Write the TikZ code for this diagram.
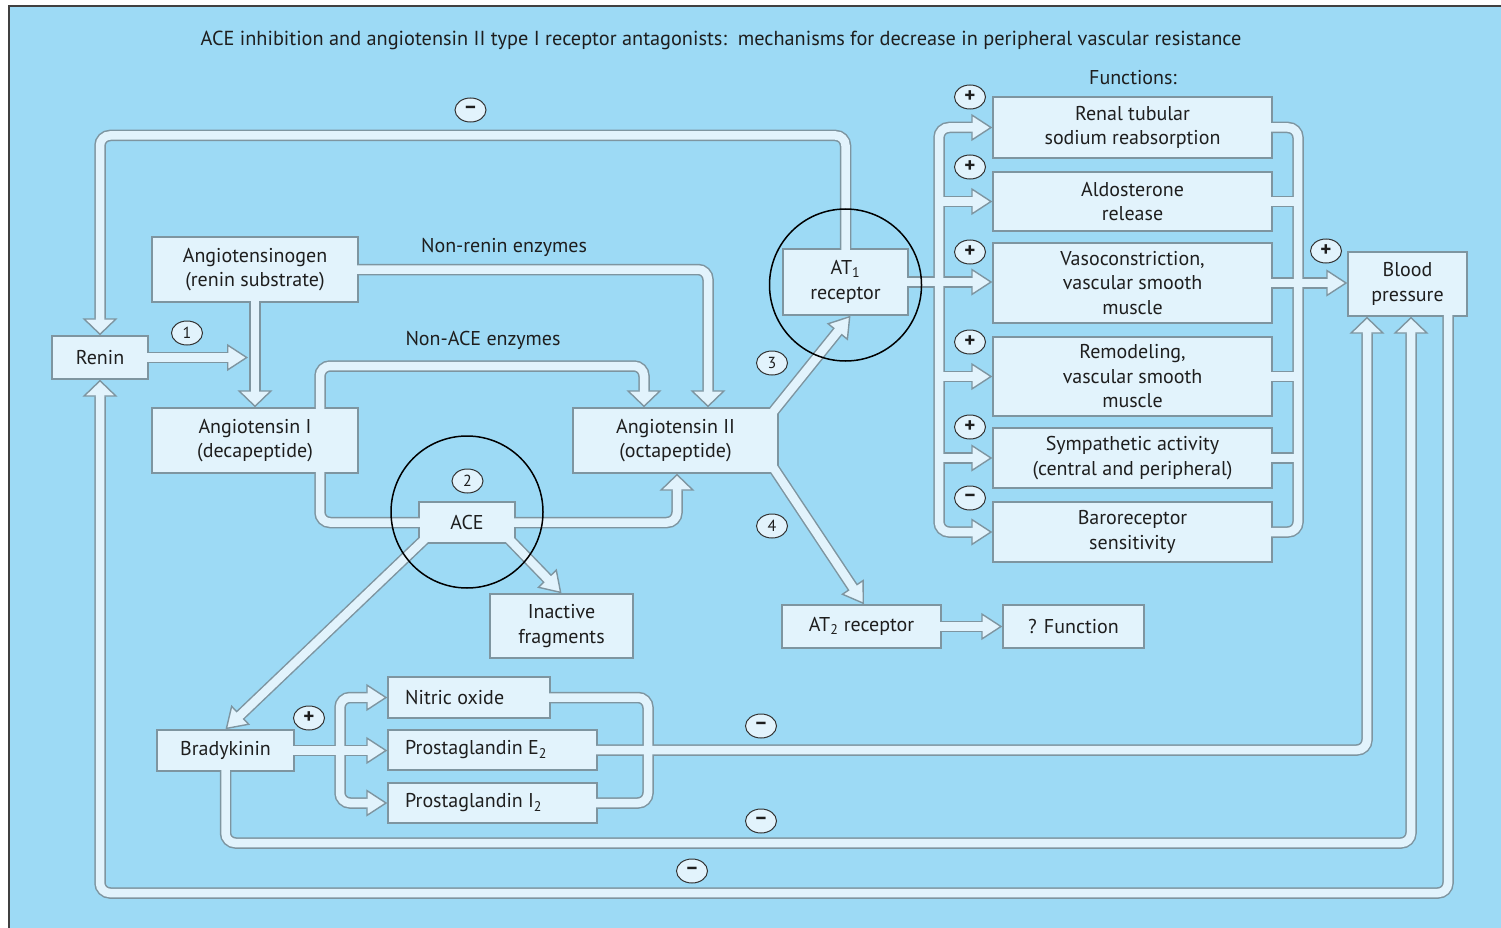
\documentclass[tikz,border=0pt]{standalone}
\usepackage{fontspec}
\setmainfont{PT Sans}
\usetikzlibrary{arrows.meta,shapes.geometric}
\definecolor{bgc}{HTML}{9DDAF5}
\definecolor{lite}{HTML}{E2F3FC}
\definecolor{bordc}{HTML}{7E95A0}
\definecolor{inkc}{HTML}{1E1E1E}
\pgfdeclarelayer{bgl}
\pgfdeclarelayer{fgl}
\pgfdeclarelayer{topl}
\pgfsetlayers{bgl,main,fgl,topl}
\newcommand\band[3]{%
  \begin{pgfonlayer}{bgl}\draw[bandout,#1] #3;\end{pgfonlayer}%
  \begin{pgfonlayer}{fgl}\draw[bandin,#2] #3;\end{pgfonlayer}}
\newcommand\plussign{{\fontsize{21}{21}\selectfont\textbf{+}}}
\newcommand\minussign{{\fontsize{21}{21}\selectfont\textbf{–}}}
\tikzset{
  bandout/.style={draw=bordc, line width=11.5pt, rounded corners=10pt},
  bandin/.style={draw=lite, line width=8.5pt, rounded corners=10pt},
  tipA/.style={-{Triangle[length=17pt 0 0,width=35pt 0 0,fill=lite,line width=1.4pt 0]}},
  tipB/.style={-{Triangle[length=21pt 0 0,width=27pt 0 0,fill=lite,line width=1.4pt 0]}},
  inA/.style={shorten >=7pt},
  inB/.style={shorten >=10pt},
  ends/.style={shorten <=-2pt, shorten >=-2pt},
  box/.style={draw=bordc, fill=lite, line width=1.4pt, inner sep=0pt, align=center,
    text=inkc, font=\fontsize{20}{24.5}\selectfont},
  lbl/.style={text=inkc, inner sep=0pt, font=\fontsize{20}{24.5}\selectfont},
  badge/.style={ellipse, draw=black!80, fill=lite, line width=1pt, minimum width=31pt,
    minimum height=24pt, inner sep=0pt, text=inkc, font=\fontsize{16}{16}\selectfont},
  ring/.style={draw=black, line width=1.5pt},
}
\begin{document}
\begin{tikzpicture}[x=1pt,y=-1pt]
\begin{pgfonlayer}{bgl}
\fill[white] (0,0) rectangle (1501,928);
\fill[bgc] (9,6) rectangle (1501,928);
\end{pgfonlayer}
\useasboundingbox (0,0) rectangle (1501,928);
\begin{pgfonlayer}{topl}
\draw[black!75, line width=2pt] (9,928) -- (9,6) -- (1501,6);
\end{pgfonlayer}

% title and labels
\node[lbl, font=\fontsize{20.3}{23}\selectfont] (title) at (721,40) {ACE inhibition and angiotensin II type I receptor antagonists:\ \ mechanisms for decrease in peripheral vascular resistance};
\node[lbl] (funlbl) at (1133,78) {Functions:};
\node[lbl] (nrlbl) at (504,247) {Non-renin enzymes};
\node[lbl] (nalbl) at (483,340) {Non-ACE enzymes};

% boxes
\node[box, minimum width=96pt, minimum height=43pt] (renin) at (100,357.5) {Renin};
\node[box, minimum width=206pt, minimum height=65pt] (agen) at (255,269.5) {Angiotensinogen\\(renin substrate)};
\node[box, minimum width=206pt, minimum height=65pt] (ang1) at (255,440.5) {Angiotensin I\\(decapeptide)};
\node[box, minimum width=96pt, minimum height=41pt] (ace) at (467,522.5) {ACE};
\node[box, minimum width=205pt, minimum height=65pt] (ang2) at (675.5,440.5) {Angiotensin II\\(octapeptide)};
\node[box, minimum width=125pt, minimum height=66pt] (at1) at (845.5,282) {AT\textsubscript{1}\\receptor};
\node[box, minimum width=143pt, minimum height=64pt] (inact) at (561.5,626) {Inactive\\fragments};
\node[box, minimum width=137pt, minimum height=41pt] (brady) at (225.5,750.5) {Bradykinin};
\node[box, minimum width=162pt, minimum height=41pt] (no) at (469,697.5) {};
\node[lbl, anchor=west] (notx) at (405,697.5) {Nitric oxide};
\node[box, minimum width=209pt, minimum height=40pt] (pge) at (492.5,750) {};
\node[lbl, anchor=west] (pgetx) at (405,750) {Prostaglandin E\textsubscript{2}};
\node[box, minimum width=209pt, minimum height=40pt] (pgi) at (492.5,803) {};
\node[lbl, anchor=west] (pgitx) at (405,803) {Prostaglandin I\textsubscript{2}};
\node[box, minimum width=159pt, minimum height=43pt] (at2) at (861.5,626.5) {AT\textsubscript{2} receptor};
\node[box, minimum width=141pt, minimum height=43pt] (fun) at (1073.5,626.5) {? Function};
\node[box, minimum width=119pt, minimum height=64pt] (bp) at (1407.5,284) {Blood\\pressure};
\node[box, minimum width=279pt, minimum height=61pt] (f1) at (1132.5,127.5) {Renal tubular\\sodium reabsorption};
\node[box, minimum width=279pt, minimum height=59pt] (f2) at (1132.5,201.5) {Aldosterone\\release};
\node[box, minimum width=279pt, minimum height=80pt] (f3) at (1132.5,283) {Vasoconstriction,\\vascular smooth\\muscle};
\node[box, minimum width=279pt, minimum height=79pt] (f4) at (1132.5,376.5) {Remodeling,\\vascular smooth\\muscle};
\node[box, minimum width=279pt, minimum height=60pt] (f5) at (1132.5,458) {Sympathetic activity\\(central and peripheral)};
\node[box, minimum width=279pt, minimum height=60pt] (f6) at (1132.5,532) {Baroreceptor\\sensitivity};

% helper coordinates
\coordinate (ytop) at (0,135.5);
\coordinate (ybot) at (0,893);
\coordinate (xr) at (1448,0);
\coordinate (ybr) at (0,843);
\coordinate (xbr) at (1411,0);
\coordinate (xpg) at (1367,0);
\coordinate (xbk) at (648,0);
\coordinate (xlb) at (340,0);
\coordinate (xa) at (320,0);
\coordinate (xac) at (677,0);
\coordinate (ynace) at (0,366);
\coordinate (xna) at (644,0);
\coordinate (xnr) at (708,0);
\coordinate (xrn) at (248,0);
\coordinate (xlbus) at (939,0);
\coordinate (xrbus) at (1298,0);

% connectors
\band{tipA}{inA,shorten <=-2pt}{(at1.north) -- (at1.north |- ytop) -- (renin.north |- ytop) -- (renin.north)}
\band{tipA}{inA,shorten <=-2pt}{(xr |- bp.south) -- (xr |- ybot) -- (renin.south |- ybot) -- (renin.south)}
\band{tipA}{inA,shorten <=-2pt}{(brady.south) -- (brady.south |- ybr) -- (xbr |- ybr) -- (xbr |- bp.south)}
\band{tipA}{inA,shorten <=-2pt}{(pge.east) -- (xpg |- pge.east) -- (xpg |- bp.south)}
\band{}{ends}{(no.east) -- (xbk |- no.east) -- (xbk |- pgi.east) -- (pgi.east)}
\band{tipB}{inB,shorten <=-2pt}{(brady.east) -- (brady.east -| pge.west)}
\band{tipB}{inB}{(xlb |- pge.west) -- (xlb |- no.west) -- (no.west)}
\band{tipB}{inB}{(xlb |- pge.west) -- (xlb |- pgi.west) -- (pgi.west)}
\band{tipB}{inB}{([shift={(8,-6)}]ace.south west) -- (brady.north)}
\band{tipB}{inB}{([shift={(-8,-6)}]ace.south east) -- (inact.north)}
\band{}{ends}{(ang1.south -| xa) -- (xa |- ace.west) -- (ace.west)}
\band{tipA}{inA,shorten <=-2pt}{(ace.east) -- (xac |- ace.east) -- (xac |- ang2.south)}
\band{tipA}{inA,shorten <=-2pt}{(ang1.north -| xa) -- (xa |- ynace) -- (xna |- ynace) -- (xna |- ang2.north)}
\band{tipA}{inA,shorten <=-2pt}{(agen.east) -- (xnr |- agen.east) -- (xnr |- ang2.north)}
\band{tipA}{inA,shorten <=-2pt}{(agen.south) -- (ang1.north)}
\band{tipB}{inB,shorten <=-2pt}{(renin.east) -- (renin.east -| xrn)}
\band{tipB}{inB}{([shift={(-6,5)}]ang2.north east) -- ([xshift=5pt]at1.south)}
\band{tipB}{inB}{([shift={(-6,-7)}]ang2.south east) -- ([xshift=2.5pt]at2.north)}
\band{tipB}{inB,shorten <=-2pt}{(at2.east) -- (fun.west)}
\band{tipB}{inB,shorten <=-2pt}{(at1.east) -- (at1.east -| f3.west)}
\band{tipB}{inB}{(xlbus |- at1.east) -- (xlbus |- f1.west) -- (f1.west)}
\band{tipB}{inB}{(xlbus |- at1.east) -- (xlbus |- f6.west) -- (f6.west)}
\band{tipB}{inB}{(xlbus |- f2.west) -- (f2.west)}
\band{tipB}{inB}{(xlbus |- f4.west) -- (f4.west)}
\band{tipB}{inB}{(xlbus |- f5.west) -- (f5.west)}
\band{}{ends}{(f1.east) -- (xrbus |- f1.east) -- (xrbus |- f6.east) -- (f6.east)}
\band{}{shorten <=-2pt}{(f2.east) -- (xrbus |- f2.east)}
\band{}{shorten <=-2pt}{(f4.east) -- (xrbus |- f4.east)}
\band{}{shorten <=-2pt}{(f5.east) -- (xrbus |- f5.east)}
\band{tipB}{inB,shorten <=-2pt}{(f3.east) -- (f3.east -| bp.west)}

% badges
\begin{pgfonlayer}{topl}
\node[badge] (mtop) at (470.5,110) {\minussign};
\node[badge] (n1) at (187,333) {1};
\node[badge] (n2) at (467.5,481) {2};
\node[badge] (n3) at (772,363) {3};
\node[badge] (n4) at (772,526) {4};
\node[badge] (pf1) at (970,97) {\plussign};
\node[badge] (pf2) at (970,167) {\plussign};
\node[badge] (pf3) at (970,252) {\plussign};
\node[badge] (pf4) at (970,342) {\plussign};
\node[badge] (pf5) at (970,427) {\plussign};
\node[badge] (mf6) at (970,498) {\minussign};
\node[badge] (pbp) at (1326,251) {\plussign};
\node[badge] (pbr) at (309,718) {\plussign};
\node[badge] (mpg) at (761,726) {\minussign};
\node[badge] (mbr) at (761,821) {\minussign};
\node[badge] (mbt) at (692,871) {\minussign};
\draw[ring] ([yshift=-3pt]at1.center) circle[radius=76pt];
\draw[ring] ([yshift=10.5pt]ace.center) circle[radius=76pt];
\end{pgfonlayer}
\end{tikzpicture}
\end{document}
